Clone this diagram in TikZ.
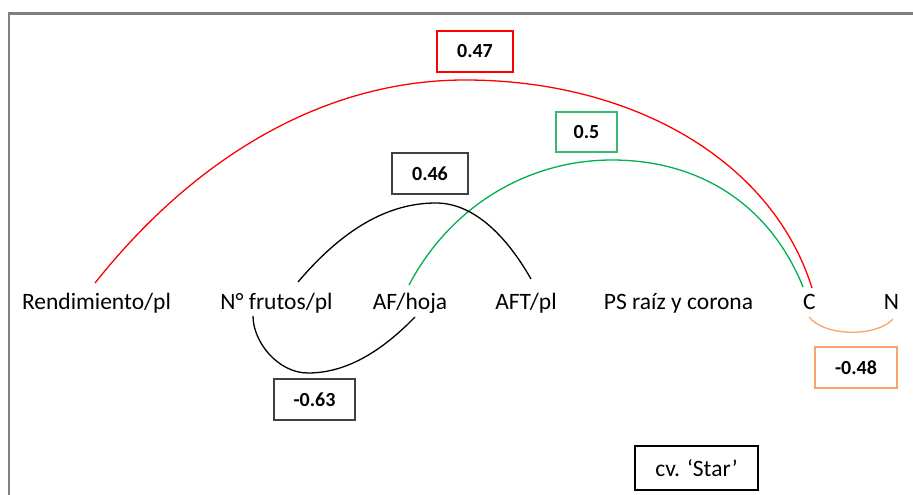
\documentclass[tikz,border=0pt]{standalone}
\usepackage{fontspec}
\setmainfont{Carlito}
\definecolor{frame}{RGB}{128,128,128}
\definecolor{cred}{RGB}{255,0,0}
\definecolor{cgreen}{RGB}{0,176,80}
\definecolor{cgreenbox}{RGB}{60,185,110}
\definecolor{corange}{RGB}{247,165,105}
\definecolor{cbox}{RGB}{64,64,64}
\begin{document}
\begin{tikzpicture}[x=1pt,y=-1pt,
  lbl/.style={anchor=base,inner sep=0pt,font=\fontsize{23.5}{27}\selectfont},
  valbox/.style={draw=cbox,line width=1.8pt,inner sep=0pt,font=\fontsize{20}{23}\selectfont\bfseries,minimum height=41pt},
  link/.style={line width=1.3pt}]
\useasboundingbox (0,0) rectangle (913,495);
\draw[frame,line width=2.8pt] (9,495) -- (9,13.5) -- (913,13.5);
% labels
\node[lbl] (rend) at (96.5,309.3) {Rendimiento/pl};
\node[lbl] (nfr) at (276.5,309.3) {N° frutos/pl};
\node[lbl] (afh) at (410,309.3) {AF/hoja};
\node[lbl] (aft) at (526,309.3) {AFT/pl};
\node[lbl] (ps) at (678.5,309.3) {PS raíz y corona};
\node[lbl] (C) at (809.5,309.3) {C};
\node[lbl] (N) at (891.5,309.3) {N};
% arc end points
\coordinate (rendT) at (95,283);
\coordinate (CTr) at (812,288);
\coordinate (afhT) at (409,285);
\coordinate (CTg) at (803,287);
\coordinate (nfrT) at (298,282);
\coordinate (aftT) at (531,279);
\coordinate (nfrB) at (253,316);
\coordinate (afhB) at (415,317);
\coordinate (CB) at (809,317);
\coordinate (NB) at (893,319);
% connectors
\draw[link,cred] (rendT) .. controls (200,151) and (330,80) .. (465,80)
  .. controls (632,80) and (772,160) .. (CTr);
\draw[link,cgreen] (afhT) .. controls (450,207) and (527,160) .. (612,160)
  .. controls (700,160) and (770,205) .. (CTg);
\draw[link,black] (nfrT) .. controls (343,229) and (388,203) .. (436,203)
  .. controls (470,203) and (503,230) .. (aftT);
\draw[link,black] (nfrB) .. controls (253,342) and (278,373) .. (308,373)
  .. controls (344,373) and (379,354) .. (afhB);
\draw[link,corange] (CB) .. controls (825,337) and (877,337) .. (NB);
% value boxes
\node[valbox,draw=cred,minimum width=76pt] (v047) at (475,51.5) {0.47};
\node[valbox,draw=cgreenbox,minimum width=61pt,minimum height=40pt] (v05) at (586.5,132) {0.5};
\node[valbox,minimum width=76pt] (v046) at (430,173.5) {0.46};
\node[valbox,minimum width=81pt] (v063) at (314.5,399.5) {-0.63};
\node[valbox,draw=corange,minimum width=82pt] (v048) at (856,367.5) {-0.48};
\node[draw=black,line width=1.8pt,inner sep=0pt,minimum width=123pt,minimum height=44pt,font=\fontsize{23.5}{27}\selectfont] (cv) at (696.5,468) {cv. ‘Star’};
\end{tikzpicture}
\end{document}
